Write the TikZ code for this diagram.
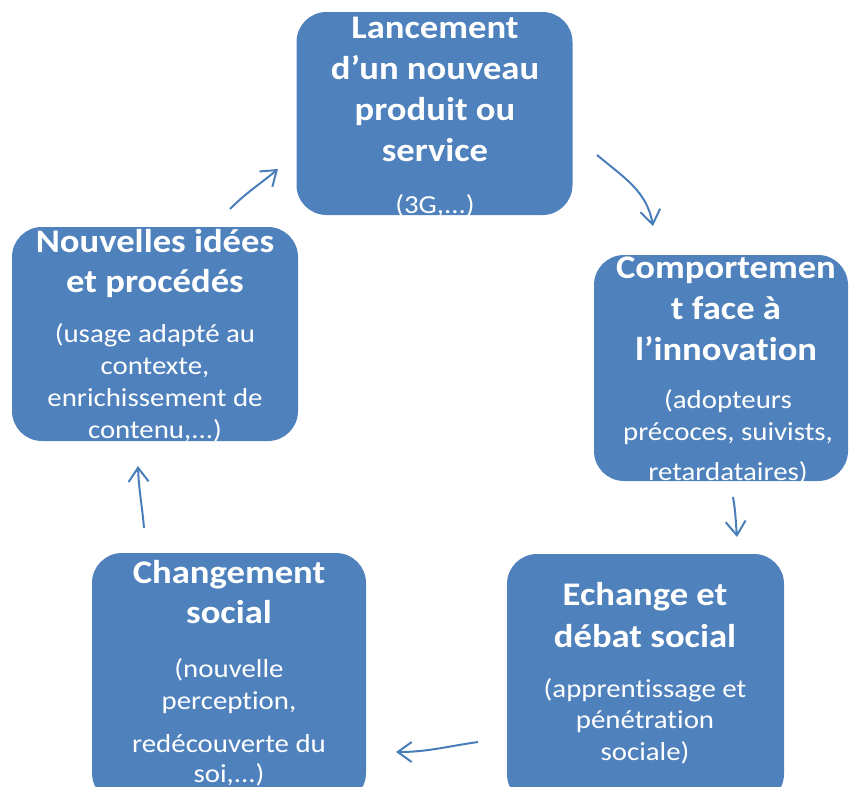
\documentclass[tikz,border=0pt]{standalone}
\usepackage{fontspec}
\setmainfont{Carlito}[FakeStretch=1.11, Ligatures=NoCommon]
\usetikzlibrary{arrows.meta}
\definecolor{boxblue}{HTML}{4F81BD}
\definecolor{arrblue}{HTML}{4A7EBB}
\tikzset{
  box/.style={fill=boxblue, draw=none, rounded corners=30pt, inner sep=0pt},
  ttl/.style={anchor=north, inner sep=0pt, align=center, text=white,
    font=\fontsize{33}{41}\selectfont\bfseries},
  sub/.style={anchor=north, inner sep=0pt, align=center, text=white,
    font=\fontsize{26}{32}\selectfont},
  conn/.style={draw=arrblue, line width=2pt, -{Straight Barb[length=14pt,width=20pt,line width=2pt]}}
}
\begin{document}
\begin{tikzpicture}[x=1pt,y=-1pt]
\useasboundingbox (0,0) rectangle (849,787);
\clip (0,0) rectangle (849,787);
% boxes
\node[box, minimum width=276pt, minimum height=203pt] (b1) at (434.5,113.5) {};
\node[box, minimum width=254pt, minimum height=226pt] (b2) at (721,368) {};
\node[box, minimum width=286pt, minimum height=214pt] (b3) at (155,334) {};
\node[box, minimum width=274pt, minimum height=250pt] (b4) at (229,678) {};
\node[box, minimum width=277pt, minimum height=250pt] (b5) at (645.5,679) {};
% texts
\node[ttl] (t1) at (435,9.3) {\strut Lancement\\d’un nouveau\\produit ou\\service};
\node[sub] (s1) at (435,190.6) {\strut(3G,...)};
\node[ttl] (t2) at (726,249.3) {\strut Comportemen\\t face à\\l’innovation};
\node[sub] (s2) at (728,385.6) {\strut(adopteurs\\précoces, suivists,\\[8pt]retardataires)};
\node[ttl] (t3) at (155,223.3) {\strut Nouvelles idées\\[-1pt]et procédés};
\node[sub] (s3) at (155,319.6) {\strut(usage adapté au\\contexte,\\enrichissement de\\contenu,...)};
\node[ttl] (t4) at (229,554.3) {\strut Changement\\[-1pt]social};
\node[sub] (s4) at (229,654.6) {\strut(nouvelle\\perception,\\[11pt]redécouverte du\\[-2pt]soi,...)};
\node[ttl] (t5) at (645,576.3) {\strut Echange et\\[1pt]débat social};
\node[sub] (s5) at (645,674.6) {\strut(apprentissage et\\[-1pt]pénétration\\sociale)};
% connector ends
\coordinate (a1s) at (597,155);
\coordinate (a1e) at (653,226);
\coordinate (a2s) at (733,497);
\coordinate (a2e) at (737,537);
\coordinate (a3s) at (478,742);
\coordinate (a3e) at (396,752);
\coordinate (a4s) at (144,528);
\coordinate (a4e) at (138,466);
\coordinate (a5s) at (230,209);
\coordinate (a5e) at (278,169);
\draw[conn] (a1s) to[out=-40,in=100] (a1e);
\draw[conn] (a2s) to[out=-80,in=95] (a2e);
\draw[conn] (a3s) to[out=188,in=0] (a3e);
\draw[conn] (a4s) to[out=95,in=-88] (a4e);
\draw[conn] (a5s) to[out=45,in=-140] (a5e);
\end{tikzpicture}
\end{document}
